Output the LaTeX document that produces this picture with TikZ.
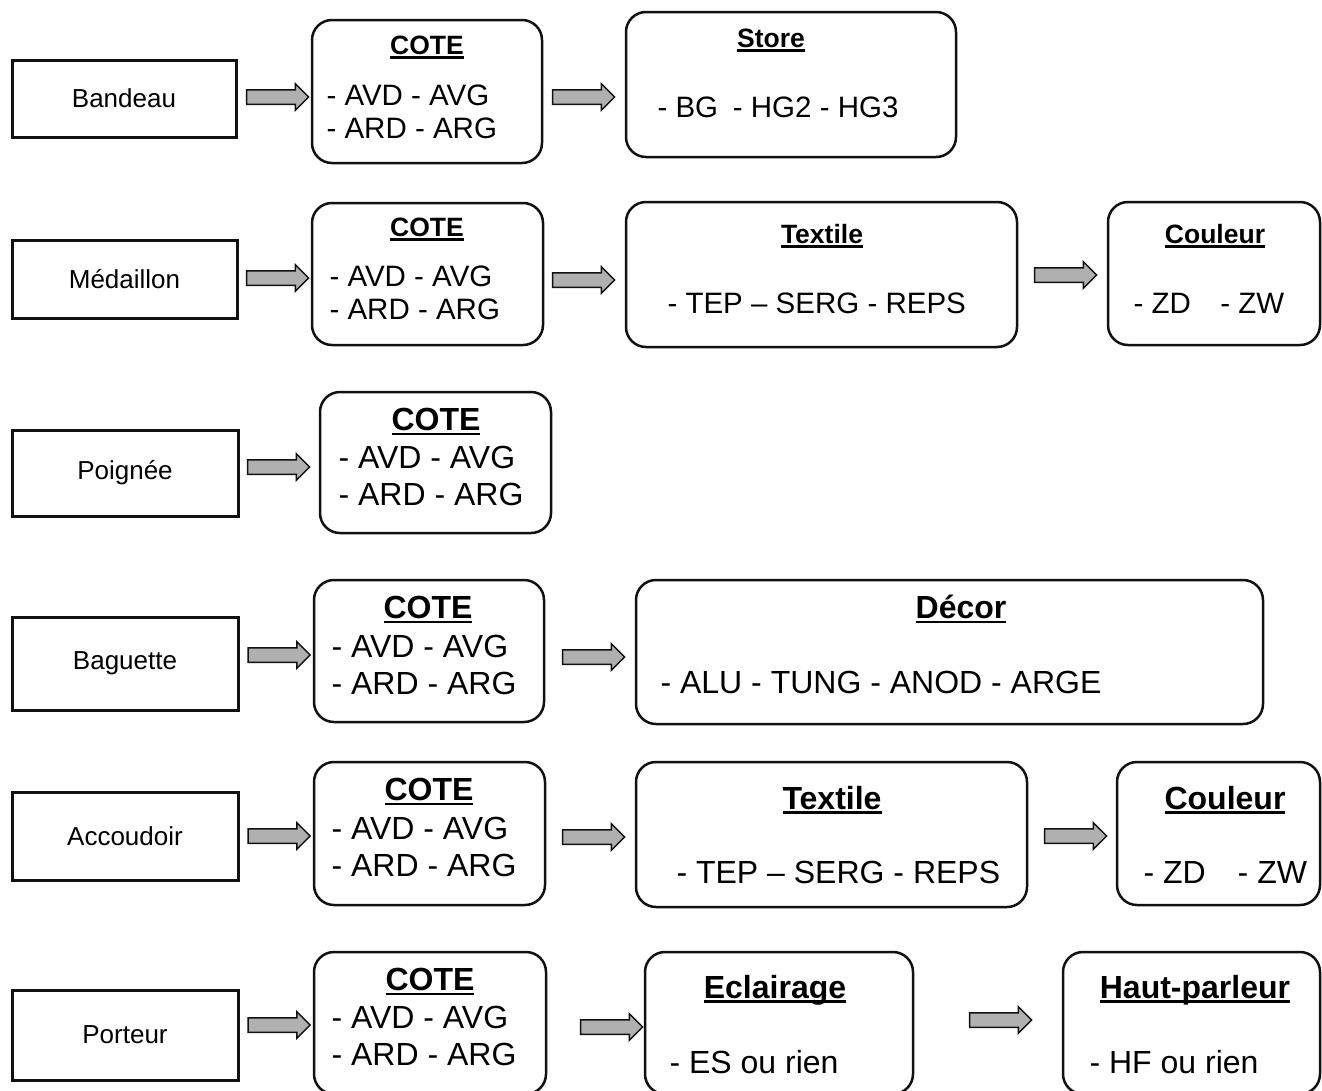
\documentclass[tikz,border=0pt]{standalone}
\usepackage{fontspec}
\setmainfont{Liberation Sans}
\usetikzlibrary{shapes.arrows}
\newcommand{\souligne}[1]{\setbox0\hbox{#1}\leavevmode\rlap{\copy0}\rule[-4.5pt]{\wd0}{2.4pt}}
\definecolor{ink}{HTML}{111111}
\definecolor{trame}{HTML}{B0B0B0}
\tikzset{
  tag/.style={draw=ink,line width=3pt,font=\fontsize{26}{30}\selectfont},
  boite/.style={draw=ink,line width=2.5pt,rounded corners=20pt},
  titre/.style={font=\bfseries\fontsize{26.5}{30}\selectfont},
  titreg/.style={font=\bfseries\fontsize{32}{36}\selectfont},
  items/.style={anchor=west,align=left,font=\fontsize{29.5}{33}\selectfont},
  itemsg/.style={anchor=west,align=left,font=\fontsize{32}{37}\selectfont},
  fleche/.style={single arrow,draw=ink,fill=trame,line width=1.5pt,minimum height=62pt,
    single arrow head extend=6pt,inner xsep=2pt,inner ysep=6.5pt}
}
\begin{document}
\begin{tikzpicture}[x=1pt,y=-1pt]
  \useasboundingbox (0,0) rectangle (1322,1090);
  % Bandeau
  \node[tag,minimum width=224pt,minimum height=77pt] (bandeau) at (124,98.5) {Bandeau};
  \node[fleche] (fl1a) at (274,97) {};
  \node[boite,minimum width=230pt,minimum height=143pt] (cote1) at (427,91.5) {};
  \node[titre] (cote1t) at (427,47) {\souligne{COTE}};
  \node[items] (cote1i) at (323,111.5) {- AVD - AVG\\- ARD - ARG};
  \node[fleche] (fl1b) at (580,97) {};
  \node[boite,minimum width=330pt,minimum height=145pt] (store) at (791,84.5) {};
  \node[titre] (storet) at (771,40) {\souligne{Store}};
  \node[items] (storei) at (654,107) {- BG\enspace- HG2 - HG3};
  % Medaillon
  \node[tag,minimum width=225pt,minimum height=78pt] (medaillon) at (124.5,279) {Médaillon};
  \node[fleche] (fl2a) at (274,278) {};
  \node[boite,minimum width=231pt,minimum height=142pt] (cote2) at (427.5,274) {};
  \node[titre] (cote2t) at (427,229) {\souligne{COTE}};
  \node[items] (cote2i) at (326,293) {- AVD - AVG\\- ARD - ARG};
  \node[fleche] (fl2b) at (580,280) {};
  \node[boite,minimum width=391pt,minimum height=145pt] (textile2) at (821.5,274.5) {};
  \node[titre] (textile2t) at (822,236) {\souligne{Textile}};
  \node[items] (textile2i) at (664,303) {- TEP -- SERG - REPS};
  \node[fleche] (fl2c) at (1062,275) {};
  \node[boite,minimum width=212pt,minimum height=143pt] (couleur2) at (1214,273.5) {};
  \node[titre] (couleur2t) at (1215,236) {\souligne{Couleur}};
  \node[items] (couleur2i) at (1130,303) {- ZD\quad- ZW};
  % Poignee
  \node[tag,minimum width=226pt,minimum height=86pt] (poignee) at (125,473) {Poignée};
  \node[fleche] (fl3a) at (275,467) {};
  \node[boite,minimum width=231pt,minimum height=141pt] (cote3) at (435.5,462.5) {};
  \node[titreg] (cote3t) at (436,422) {\souligne{COTE}};
  \node[itemsg] (cote3i) at (335,476) {- AVD - AVG\\- ARD - ARG};
  % Baguette
  \node[tag,minimum width=226pt,minimum height=93pt] (baguette) at (125,663.5) {Baguette};
  \node[fleche] (fl4a) at (275.5,655) {};
  \node[boite,minimum width=230pt,minimum height=142pt] (cote4) at (429,651) {};
  \node[titreg] (cote4t) at (428,610) {\souligne{COTE}};
  \node[itemsg] (cote4i) at (328,664.5) {- AVD - AVG\\- ARD - ARG};
  \node[fleche] (fl4b) at (590,657) {};
  \node[boite,minimum width=627pt,minimum height=144pt] (decor) at (949.5,652) {};
  \node[titreg] (decort) at (961,609) {\souligne{Décor}};
  \node[itemsg] (decori) at (657,682) {- ALU - TUNG - ANOD - ARGE};
  % Accoudoir
  \node[tag,minimum width=226pt,minimum height=88pt] (accoudoir) at (125,836) {Accoudoir};
  \node[fleche] (fl5a) at (275.5,836) {};
  \node[boite,minimum width=231pt,minimum height=143pt] (cote5) at (429.5,833.5) {};
  \node[titreg] (cote5t) at (429,792) {\souligne{COTE}};
  \node[itemsg] (cote5i) at (328,846.5) {- AVD - AVG\\- ARD - ARG};
  \node[fleche] (fl5b) at (590,837) {};
  \node[boite,minimum width=391pt,minimum height=145pt] (textile5) at (831.5,834.5) {};
  \node[titreg] (textile5t) at (832,800) {\souligne{Textile}};
  \node[itemsg] (textile5i) at (673,872) {- TEP -- SERG - REPS};
  \node[fleche] (fl5c) at (1072,836) {};
  \node[boite,minimum width=203pt,minimum height=143pt] (couleur5) at (1218.5,833.5) {};
  \node[titreg] (couleur5t) at (1225,800) {\souligne{Couleur}};
  \node[itemsg] (couleur5i) at (1140,872) {- ZD\quad- ZW};
  % Porteur
  \node[tag,minimum width=226pt,minimum height=90pt] (porteur) at (125,1035) {Porteur};
  \node[fleche] (fl6a) at (275.5,1025) {};
  \node[boite,minimum width=232pt,minimum height=142pt] (cote6) at (430,1023) {};
  \node[titreg] (cote6t) at (430,982) {\souligne{COTE}};
  \node[itemsg] (cote6i) at (328,1036) {- AVD - AVG\\- ARD - ARG};
  \node[fleche] (fl6b) at (608,1027) {};
  \node[boite,minimum width=268pt,minimum height=142pt] (eclairage) at (779,1023) {};
  \node[titreg] (eclairaget) at (775,990) {\souligne{Eclairage}};
  \node[itemsg] (eclairagei) at (666,1062) {- ES ou rien};
  \node[fleche] (fl6c) at (997,1020) {};
  \node[boite,minimum width=257pt,minimum height=142pt] (hautparleur) at (1191.5,1023) {};
  \node[titreg] (hautparleurt) at (1195,990) {\souligne{Haut-parleur}};
  \node[itemsg] (hautparleuri) at (1086,1062) {- HF ou rien};
\end{tikzpicture}
\end{document}
